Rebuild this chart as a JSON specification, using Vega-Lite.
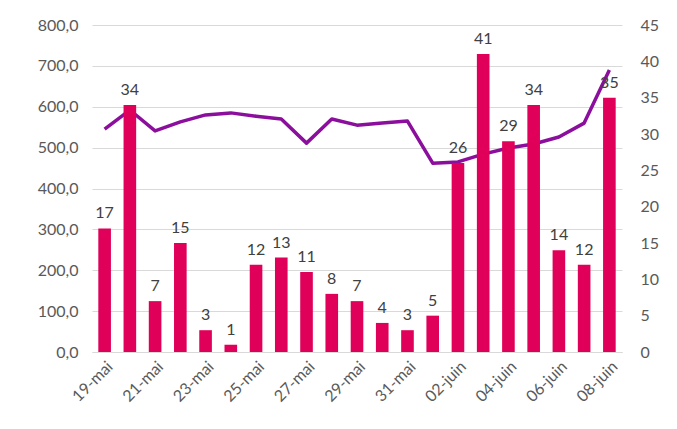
{
  "$schema": "https://vega.github.io/schema/vega-lite/v6.json",
  "width": 530,
  "height": 327,
  "autosize": {"type": "none"},
  "padding": {"left": 92, "top": 25, "right": 55, "bottom": 77},
  "background": "white",
  "config": {"view": {"stroke": null}, "font": "Lato"},
  "data": {
    "values": [
      {"date": "19-mai", "cas": 17, "val": 545},
      {"date": "20-mai", "cas": 34, "val": 592},
      {"date": "21-mai", "cas": 7, "val": 541},
      {"date": "22-mai", "cas": 15, "val": 563},
      {"date": "23-mai", "cas": 3, "val": 580},
      {"date": "24-mai", "cas": 1, "val": 585},
      {"date": "25-mai", "cas": 12, "val": 577},
      {"date": "26-mai", "cas": 13, "val": 570},
      {"date": "27-mai", "cas": 11, "val": 511},
      {"date": "28-mai", "cas": 8, "val": 570},
      {"date": "29-mai", "cas": 7, "val": 555},
      {"date": "30-mai", "cas": 4, "val": 560},
      {"date": "31-mai", "cas": 3, "val": 565},
      {"date": "01-juin", "cas": 5, "val": 462},
      {"date": "02-juin", "cas": 26, "val": 465},
      {"date": "03-juin", "cas": 41, "val": 484},
      {"date": "04-juin", "cas": 29, "val": 499},
      {"date": "05-juin", "cas": 34, "val": 509},
      {"date": "06-juin", "cas": 14, "val": 526},
      {"date": "07-juin", "cas": 12, "val": 560},
      {"date": "08-juin", "cas": 35, "val": 690}
    ]
  },
  "encoding": {
    "x": {
      "field": "date",
      "type": "ordinal",
      "sort": null,
      "scale": {"paddingInner": 0.5, "paddingOuter": 0.25},
      "axis": {
        "title": null,
        "values": ["19-mai", "21-mai", "23-mai", "25-mai", "27-mai", "29-mai", "31-mai", "02-juin", "04-juin", "06-juin", "08-juin"],
        "labelAngle": -45,
        "labelFontSize": 16,
        "labelColor": "#595959",
        "labelOverlap": false,
        "ticks": false,
        "domainColor": "#d9d9d9",
        "labelPadding": 6
      }
    }
  },
  "layer": [
    {
      "mark": {"type": "line", "color": "#8B0F9C", "strokeWidth": 3.5, "strokeJoin": "round"},
      "encoding": {
        "y": {
          "field": "val",
          "type": "quantitative",
          "scale": {"domain": [0, 800], "nice": false},
          "axis": {
            "orient": "left",
            "title": null,
            "values": [0, 100, 200, 300, 400, 500, 600, 700, 800],
            "labelExpr": "replace(format(datum.value, '.1f'), '.', ',')",
            "labelFontSize": 16,
            "labelColor": "#595959",
            "labelPadding": 14,
            "labelOverlap": false,
            "ticks": false,
            "domain": false,
            "grid": true,
            "gridColor": "#d9d9d9"
          }
        }
      }
    },
    {
      "encoding": {
        "y": {
          "field": "cas",
          "type": "quantitative",
          "scale": {"domain": [0, 45], "nice": false},
          "axis": {
            "orient": "right",
            "title": null,
            "values": [0, 5, 10, 15, 20, 25, 30, 35, 40, 45],
            "labelFontSize": 16,
            "labelColor": "#595959",
            "labelPadding": 18,
            "labelOverlap": false,
            "ticks": false,
            "domain": false,
            "grid": false
          }
        }
      },
      "layer": [
        {"mark": {"type": "bar", "color": "#E0005A"}},
        {
          "mark": {"type": "text", "baseline": "bottom", "dy": -7, "fontSize": 16, "color": "#404040"},
          "encoding": {"text": {"field": "cas", "type": "quantitative"}}
        }
      ]
    }
  ],
  "resolve": {"scale": {"y": "independent"}}
}
